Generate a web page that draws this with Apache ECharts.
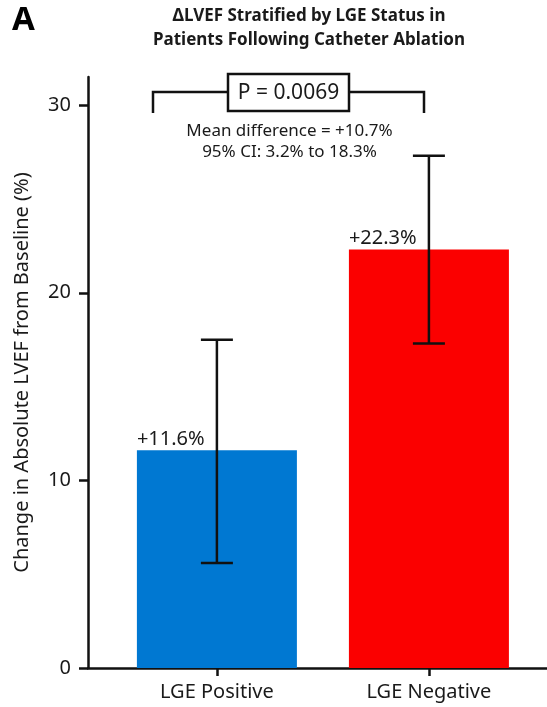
<!DOCTYPE html>
<html>
<head>
<meta charset="utf-8">
<script src="https://cdn.jsdelivr.net/npm/echarts@6/dist/echarts.min.js"></script>
<style>html,body{margin:0;padding:0;background:#fff}#c{width:547px;height:707px}</style>
</head>
<body>
<div id="c"></div>
<script>
// ---- data ----
const categories = ['LGE Positive', 'LGE Negative'];
const meanChange = [11.6, 22.3];
const ciLow = [5.6, 17.3];
const ciHigh = [17.5, 27.3];
const barColors = ['#0078d2', '#fb0000'];
const yTicks = [0, 10, 20, 30];
const pText = 'P = 0.0069';
const diffText = ['Mean difference = +10.7%', '95% CI: 3.2% to 18.3%'];

const FONT = "'Noto Sans', sans-serif";
const TXT = '#1a1a1a';

const chart = echarts.init(document.getElementById('c'), null, {renderer: 'canvas'});
const catIdx = categories.map((_, i) => i);

const option = {
  animation: false,
  backgroundColor: '#fff',
  textStyle: {fontFamily: FONT},
  grid: {left: 88, right: 0, top: 77, bottom: 39, containLabel: false},
  xAxis: {
    type: 'value',
    min: -0.608, max: 1.557,
    splitLine: {show: false},
    axisLine: {show: true, onZero: false, lineStyle: {color: '#111', width: 2.5}},
    axisTick: {show: true, customValues: catIdx, length: 8, lineStyle: {color: '#111', width: 2.5}},
    axisLabel: {
      customValues: catIdx,
      formatter: v => categories[Math.round(v)] || '',
      margin: 14, fontSize: 20, color: TXT, fontFamily: FONT
    }
  },
  yAxis: {
    type: 'value',
    min: 0, max: 31.5, interval: 10,
    name: 'Change in Absolute LVEF from Baseline (%)',
    nameLocation: 'middle', nameGap: 56,
    nameTextStyle: {fontSize: 20, color: TXT, fontFamily: FONT},
    splitLine: {show: false},
    axisLine: {show: true, onZero: false, lineStyle: {color: '#111', width: 2.5}},
    axisTick: {show: true, customValues: yTicks, length: 9, lineStyle: {color: '#111', width: 2.5}},
    axisLabel: {
      customValues: yTicks, margin: 17, fontSize: 20, color: TXT, fontFamily: FONT
    }
  },
  series: [
    {
      type: 'bar',
      barWidth: 160,
      data: meanChange.map((v, i) => ({value: [i, v], itemStyle: {color: barColors[i]}})),
      label: {
        show: true,
        position: [0, -1],
        align: 'left', verticalAlign: 'bottom',
        formatter: p => '+' + p.value[1].toFixed(1) + '%',
        fontSize: 20, color: TXT, fontFamily: FONT
      },
      z: 2
    },
    {
      type: 'custom',
      z: 5,
      data: catIdx.map(i => [i, ciLow[i], ciHigh[i]]),
      renderItem: function (params, api) {
        const x = api.value(0);
        const lo = api.coord([x, api.value(1)]);
        const hi = api.coord([x, api.value(2)]);
        const hw = 16;
        const st = {stroke: '#111', lineWidth: 2.5};
        return {
          type: 'group',
          children: [
            {type: 'line', shape: {x1: lo[0], y1: lo[1], x2: hi[0], y2: hi[1]}, style: st},
            {type: 'line', shape: {x1: lo[0] - hw, y1: lo[1], x2: lo[0] + hw, y2: lo[1]}, style: st},
            {type: 'line', shape: {x1: hi[0] - hw, y1: hi[1], x2: hi[0] + hw, y2: hi[1]}, style: st}
          ]
        };
      }
    }
  ],
  graphic: [
    {type: 'text', left: 12, top: 4, style: {text: 'A', fontSize: 33, fontWeight: 'bold', fill: '#000', fontFamily: FONT}},
    {type: 'text', x: 309, y: 16, style: {text: 'ΔLVEF Stratified by LGE Status in', fontSize: 17, fontWeight: 'bold', fill: TXT, fontFamily: FONT, align: 'center', verticalAlign: 'middle'}},
    {type: 'text', x: 309, y: 40, style: {text: 'Patients Following Catheter Ablation', fontSize: 17, fontWeight: 'bold', fill: TXT, fontFamily: FONT, align: 'center', verticalAlign: 'middle'}},
    {type: 'polyline', shape: {points: [[153, 113], [153, 92], [228, 92]]}, style: {stroke: '#111', lineWidth: 2.5, fill: null}},
    {type: 'polyline', shape: {points: [[349, 92], [424, 92], [424, 113]]}, style: {stroke: '#111', lineWidth: 2.5, fill: null}},
    {type: 'rect', shape: {x: 228, y: 74, width: 121, height: 37}, style: {stroke: '#111', lineWidth: 2.5, fill: '#fff'}},
    {type: 'text', x: 288.5, y: 93, style: {text: pText, fontSize: 21, fill: TXT, fontFamily: FONT, align: 'center', verticalAlign: 'middle'}},
    {type: 'text', x: 289.5, y: 131, style: {text: diffText[0], fontSize: 17, fill: TXT, fontFamily: FONT, align: 'center', verticalAlign: 'middle'}},
    {type: 'text', x: 289.5, y: 152, style: {text: diffText[1], fontSize: 17, fill: TXT, fontFamily: FONT, align: 'center', verticalAlign: 'middle'}}
  ]
};
chart.setOption(option);
</script>
</body>
</html>
